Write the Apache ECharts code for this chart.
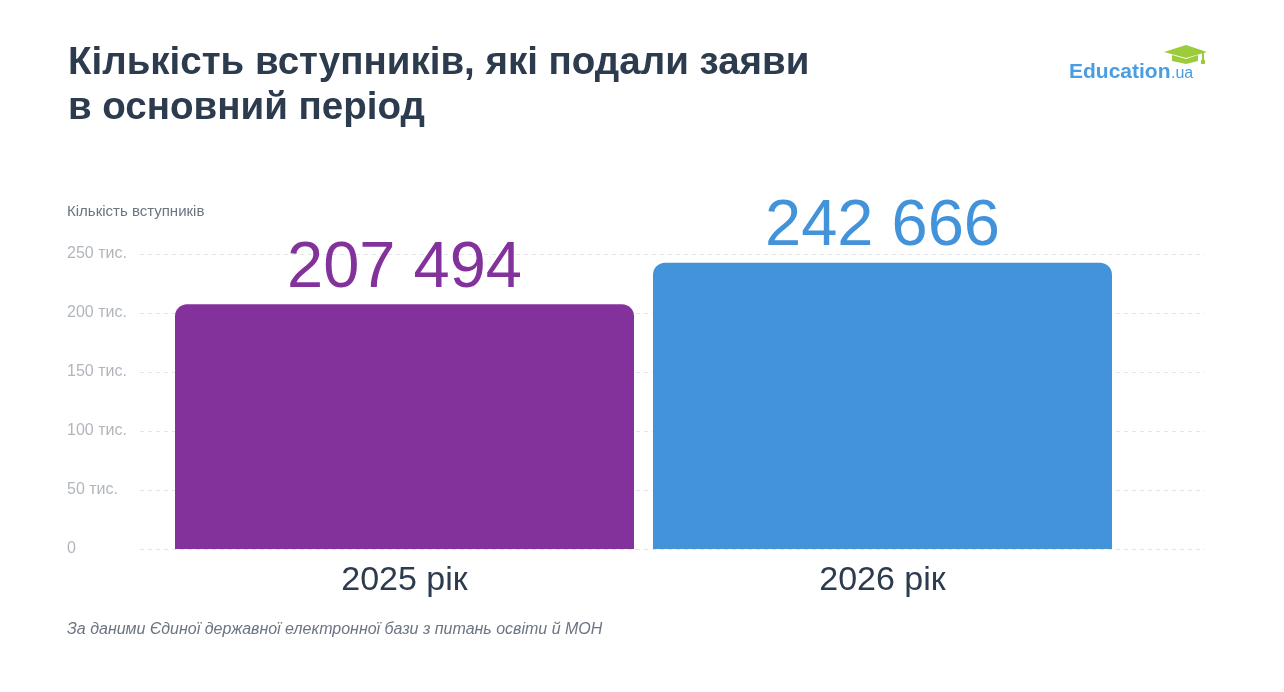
<!DOCTYPE html>
<html>
<head>
<meta charset="utf-8">
<script src="https://cdn.jsdelivr.net/npm/echarts@6/dist/echarts.min.js"></script>
<style>
html,body{margin:0;padding:0;background:#fff;}
#c{width:1284px;height:692px;}
</style>
</head>
<body>
<div id="c"></div>
<script>
var categories = ['2025 рік', '2026 рік'];
var values = [207494, 242666];
var valueLabels = ['207 494', '242 666'];
var barColors = ['#84329b', '#4393da'];
var yTickLabels = ['0', '50 тис.', '100 тис.', '150 тис.', '200 тис.', '250 тис.'];

var FONT = '"Liberation Sans", Arial, Helvetica, sans-serif';
var chart = echarts.init(document.getElementById('c'));
chart.setOption({
  backgroundColor: '#ffffff',
  animation: false,
  title: {
    text: 'Кількість вступників, які подали заяви\nв основний період',
    left: 63, top: 36,
    textStyle: { fontFamily: FONT, fontSize: 38.5, fontWeight: 'bold', color: '#2d3b4e', lineHeight: 45 }
  },
  graphic: [
    { type: 'text', left: 67, top: 204, style: { text: 'Кількість вступників', fontFamily: FONT, fontSize: 15, fill: '#6b7480' } },
    { type: 'text', left: 67, top: 622, style: { text: 'За даними Єдиної державної електронної бази з питань освіти й МОН', fontFamily: FONT, fontSize: 16, fontStyle: 'italic', fill: '#6b7582' } },
    { type: 'text', left: 1069, top: 62, style: { text: 'Education', fontFamily: FONT, fontSize: 21, fontWeight: 'bold', fill: '#4a9de0' } },
    { type: 'text', left: 1171, top: 66, style: { text: '.ua', fontFamily: FONT, fontSize: 16, fill: '#4a9de0' } },
    { type: 'polygon', shape: { points: [[1164, 52], [1186, 45], [1207, 52], [1186, 58]] }, style: { fill: '#9ccc3c' } },
    { type: 'polygon', shape: { points: [[1172, 55], [1186, 59], [1198, 55], [1198, 61], [1186, 64], [1172, 61]] }, style: { fill: '#9ccc3c' } },
    { type: 'rect', shape: { x: 1202, y: 52, width: 2, height: 10 }, style: { fill: '#9ccc3c' } },
    { type: 'rect', shape: { x: 1201, y: 60, width: 4, height: 4 }, style: { fill: '#9ccc3c' } }
  ],
  grid: [
    { left: 140, right: 79, top: 254, bottom: 143 },
    { left: 165.5, right: 162.5, top: 254, bottom: 143 }
  ],
  xAxis: [
    { gridIndex: 0, type: 'category', data: categories, show: false },
    {
      gridIndex: 1, type: 'category', data: categories,
      axisLine: { show: false }, axisTick: { show: false },
      axisLabel: { fontFamily: FONT, fontSize: 34, color: '#2d3b4e', margin: 15 }
    }
  ],
  yAxis: [
    {
      gridIndex: 0, type: 'value', min: 0, max: 250000, interval: 50000,
      axisLine: { show: false }, axisTick: { show: false },
      axisLabel: {
        fontFamily: FONT, fontSize: 16, color: '#b1b6bd', align: 'left', margin: 73,
        formatter: function (v) { return yTickLabels[Math.round(v / 50000)]; }
      },
      splitLine: { show: true, lineStyle: { color: '#e3e5e8', type: [4, 4], width: 1 } }
    },
    { gridIndex: 1, type: 'value', min: 0, max: 250000, interval: 50000, show: false, splitLine: { show: false } }
  ],
  series: [{
    type: 'bar', xAxisIndex: 1, yAxisIndex: 1,
    barWidth: 459,
    data: values.map(function (v, i) {
      return {
        value: v,
        itemStyle: { color: barColors[i], borderRadius: [12, 12, 0, 0] },
        label: { color: barColors[i] }
      };
    }),
    label: {
      show: true, position: 'top', distance: 3,
      fontFamily: FONT, fontSize: 65,
      formatter: function (p) { return valueLabels[p.dataIndex]; }
    }
  }]
});
</script>
</body>
</html>
